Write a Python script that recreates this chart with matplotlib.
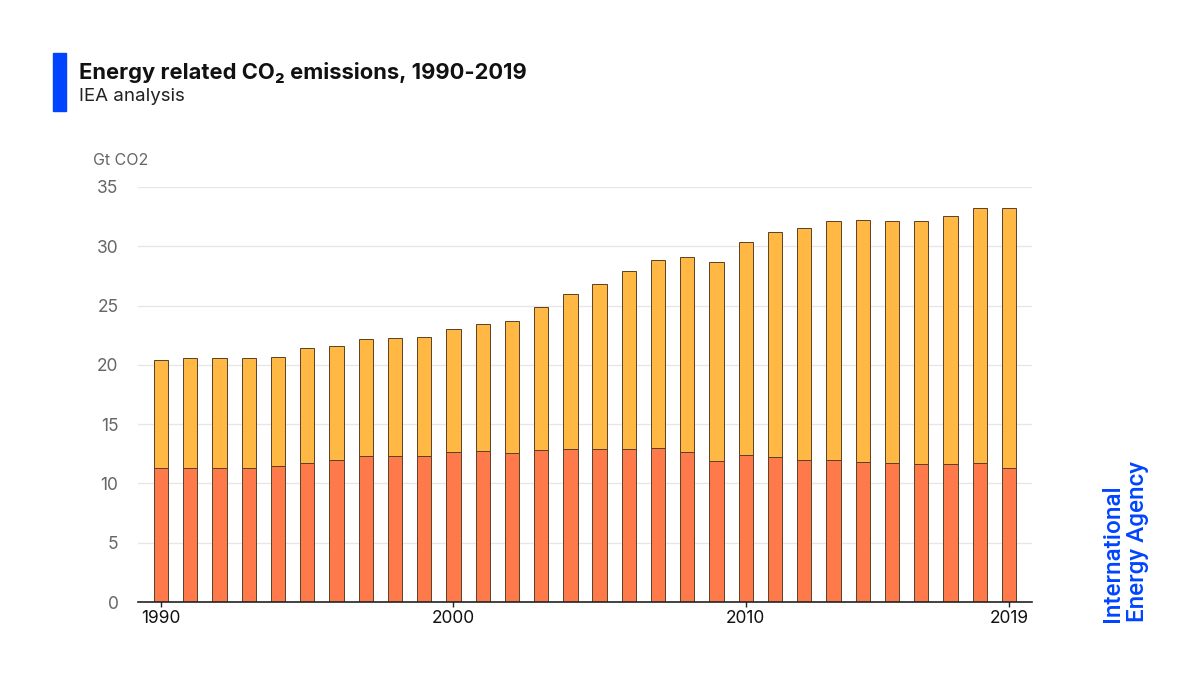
import matplotlib
matplotlib.use("Agg")
import matplotlib.pyplot as plt
import numpy as np

years = list(range(1990, 2020))
advanced = [11.33, 11.33, 11.33, 11.33, 11.50, 11.75, 11.97, 12.28, 12.28, 12.28,
            12.62, 12.70, 12.56, 12.79, 12.93, 12.93, 12.93, 13.01, 12.68, 11.89,
            12.37, 12.20, 11.97, 11.97, 11.84, 11.75, 11.67, 11.67, 11.75, 11.33]
total = [20.42, 20.59, 20.59, 20.59, 20.67, 21.40, 21.62, 22.18, 22.27, 22.35,
         23.05, 23.47, 23.72, 24.85, 25.97, 26.84, 27.88, 28.86, 29.08, 28.69,
         30.37, 31.24, 31.55, 32.11, 32.20, 32.11, 32.11, 32.59, 33.23, 33.23]
rest = [t - a for t, a in zip(total, advanced)]
yticks = [0, 5, 10, 15, 20, 25, 30, 35]
xticks = [1990, 2000, 2010, 2019]

plt.rcParams['font.family'] = ['Inter', 'DejaVu Sans']

fig = plt.figure(figsize=(12, 6.75), dpi=100)
ax = fig.add_axes([0.115, 0.108, 0.745, 0.615])

ax.bar(years, advanced, width=0.49, color='#ff7a4a', edgecolor='#5a4025', linewidth=0.7, zorder=3)
ax.bar(years, rest, bottom=advanced, width=0.49, color='#ffb843', edgecolor='#5a4025',
       linewidth=0.7, zorder=3)

ax.set_xlim(1989.21, 2019.79)
ax.set_ylim(0, 35)
ax.set_yticks(yticks)
ax.set_xticks(xticks)
ax.grid(axis='y', color='#e6e6e6', linewidth=0.9, zorder=0)
for s in ['top', 'right', 'left']:
    ax.spines[s].set_visible(False)
ax.spines['bottom'].set_color('#222222')
ax.spines['bottom'].set_linewidth(1.2)
ax.spines['bottom'].set_zorder(4)
ax.tick_params(axis='y', length=0, labelsize=12.5, labelcolor='#666666', pad=14)
ax.tick_params(axis='x', length=7, width=1, color='#222222', labelsize=12.5,
               labelcolor='#111111', pad=2, direction='inout')

fig.text(0.0775, 0.762, 'Gt CO2', fontsize=11.5, color='#666666', va='center')

# header
fig.patches.append(plt.Rectangle((0.044, 0.835), 0.011, 0.087, transform=fig.transFigure,
                                 color='#0044ff', zorder=5))
fig.text(0.066, 0.893, 'Energy related CO\u2082 emissions, 1990-2019', fontsize=15.8,
         fontweight='bold', color='#111111', va='center')
fig.text(0.066, 0.857, 'IEA analysis', fontsize=13.5, color='#222222', va='center')

# agency mark
fig.text(0.927, 0.078, 'International', rotation=90, fontsize=17.5, color='#0044ff',
         family=['Roboto'], fontweight='medium', va='bottom', ha='center')
fig.text(0.948, 0.078, 'Energy Agency', rotation=90, fontsize=17.5, color='#0044ff',
         family=['Roboto'], fontweight='medium', va='bottom', ha='center')

fig.savefig('out.png', dpi=100)
